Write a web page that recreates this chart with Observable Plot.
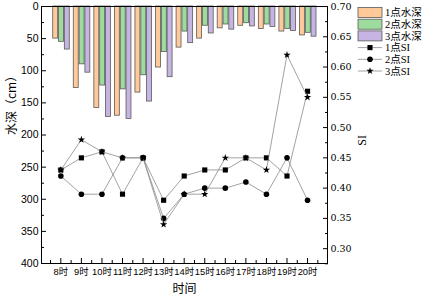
<!DOCTYPE html>
<html><head><meta charset="utf-8">
<script src="https://cdn.jsdelivr.net/npm/d3@7"></script>
<script src="https://cdn.jsdelivr.net/npm/@observablehq/plot@0.6"></script>
<style>
body{margin:0;background:#fff;}
#wrap{position:relative;width:425px;height:301px;}
#legend{position:absolute;left:0;top:0;}
</style></head><body><div id="wrap"></div>
<script>
// ---- data ----
const hours = ["8时","9时","10时","11时","12时","13时","14时","15时","16时","17时","18时","19时","20时"];
const depth1 = [50,127,158,170,134,95,64,50,34,30,35,39,45];
const depth2 = [55,90,123,129,107,71,39,30,28,26,28,35,41];
const depth3 = [67,103,172,175,148,110,57,42,36,31,32,38,47];
const si1 = [0.43,0.45,0.46,0.39,0.45,0.38,0.42,0.43,0.43,0.45,0.45,0.42,0.56];
const si2 = [0.42,0.39,0.39,0.45,0.45,0.35,0.39,0.40,0.40,0.41,0.39,0.45,0.38];
const si3 = [0.43,0.48,0.46,0.45,0.45,0.34,0.39,0.39,0.45,0.45,0.43,0.62,0.55];
const depthTicks = [0,50,100,150,200,250,300,350,400];
const siTicks = [0.30,0.35,0.40,0.45,0.50,0.55,0.60,0.65,0.70];
const depthNames = ["1点水深","2点水深","3点水深"];
const siNames = ["1点SI","2点SI","3点SI"];
const xTitle = "时间", yTitle = "水深（cm）", y2Title = "SI";

// ---- styles ----
const barColors = ["#FFC99A","#9EDC9E","#C6B5E2"];
const barStroke = "#5a5a5a";
const symbols = ["square","circle","star"];
const symbolR = [2.9,2.8,2.3];
const lineColor = "#8a8a8a";
const SI_TOP = 0.70, SI_BOTTOM = 0.2755, DEPTH_MAX = 400;
const siToDepth = s => (SI_TOP - s) / (SI_TOP - SI_BOTTOM) * DEPTH_MAX;
const depthToSi = d => SI_TOP - d / DEPTH_MAX * (SI_TOP - SI_BOTTOM);

const hourNum = hours.map(h => parseInt(h));
const BAR_W = 0.24, barOffsets = [-0.25, 0.035, 0.315];

const barRows = [];
[depth1, depth2, depth3].forEach((arr, k) => arr.forEach((v, i) =>
  barRows.push({x1: hourNum[i] + barOffsets[k] - BAR_W/2, x2: hourNum[i] + barOffsets[k] + BAR_W/2, v, k})));
const siSeries = [si1, si2, si3].map(arr => arr.map((s, i) => ({h: hourNum[i], d: siToDepth(s)})));

const minorX = d3.range(7.5, 21, 1);
const minorDepth = d3.range(25, 400, 50);
const minorSi = [0.275,0.325,0.375,0.425,0.475,0.525,0.575,0.625,0.675].map(siToDepth);

const sans = "'Liberation Sans','Noto Sans CJK SC',sans-serif";
const serif = "'DejaVu Serif','Noto Sans CJK SC',serif";
const cjk = "'Noto Sans CJK SC',sans-serif";

const marks = [
  Plot.rect(barRows, {x1: "x1", x2: "x2", y1: 0, y2: "v", fill: d => barColors[d.k], stroke: barStroke, strokeWidth: 0.8})
];
siSeries.forEach((s, k) => {
  marks.push(Plot.line(s, {x: "h", y: "d", stroke: lineColor, strokeWidth: 0.8}));
  marks.push(Plot.dot(s, {x: "h", y: "d", symbol: symbols[k], r: symbolR[k], fill: "#000", stroke: "none"}));
});
marks.push(
  Plot.frame({stroke: "#000", strokeWidth: 1}),
  Plot.axisY(depthTicks, {anchor: "left", tickSize: -5, tickPadding: 8, fontFamily: sans, fontSize: 10.5, fill: "#000", label: null}),
  Plot.axisY(minorDepth, {anchor: "left", tickSize: -3, tickFormat: () => "", label: null}),
  Plot.axisY(siTicks.map(siToDepth), {anchor: "right", tickSize: -5, tickPadding: 8, fontFamily: serif, fontSize: 9.5, fill: "#000",
    tickFormat: d => depthToSi(d).toFixed(2), label: null}),
  Plot.axisY(minorSi, {anchor: "right", tickSize: -3, tickFormat: () => "", label: null}),
  Plot.axisX(hourNum, {anchor: "bottom", tickSize: -5, tickPadding: 10, fontFamily: sans, fontSize: 9.4, fill: "#000",
    tickFormat: d => hours[hourNum.indexOf(d)], label: null}),
  Plot.axisX(minorX, {anchor: "bottom", tickSize: -3, tickFormat: () => "", label: null}),
  Plot.text([xTitle], {frameAnchor: "bottom", dy: 29, fontSize: 12, fontFamily: cjk, fill: "#000"}),
  Plot.text([yTitle], {frameAnchor: "left", rotate: -90, dx: -29, fontSize: 12, fontFamily: cjk, fill: "#000"}),
  Plot.text([y2Title], {frameAnchor: "right", rotate: -90, dx: 35, fontSize: 12, fontFamily: "'Liberation Serif',serif", fill: "#000"})
);

const chart = Plot.plot({
  width: 425, height: 301,
  marginTop: 6, marginBottom: 38, marginLeft: 41, marginRight: 98,
  x: {type: "linear", domain: [7.06, 20.97], axis: null},
  y: {domain: [0, DEPTH_MAX], reverse: true, axis: null},
  style: {fontFamily: sans, fontSize: "10px", color: "#000", background: "#fff"},
  marks
});
document.getElementById("wrap").appendChild(chart);

// ---- legend ----
const NS = "http://www.w3.org/2000/svg";
const leg = document.createElementNS(NS, "svg");
leg.setAttribute("id", "legend");
leg.setAttribute("width", 425); leg.setAttribute("height", 301);
const rowY = [12.5, 24.2, 35.9, 47.6, 59.3, 71];
const lx = 358, lw = 24, tx = 385;
depthNames.forEach((name, k) => {
  const r = document.createElementNS(NS, "rect");
  r.setAttribute("x", lx); r.setAttribute("y", rowY[k] - 5); r.setAttribute("width", lw); r.setAttribute("height", 10);
  r.setAttribute("fill", barColors[k]); r.setAttribute("stroke", barStroke); r.setAttribute("stroke-width", 0.8);
  leg.appendChild(r);
});
siNames.forEach((name, k) => {
  const y = rowY[k + 3];
  const l = document.createElementNS(NS, "line");
  l.setAttribute("x1", lx); l.setAttribute("x2", lx + lw); l.setAttribute("y1", y); l.setAttribute("y2", y);
  l.setAttribute("stroke", lineColor); l.setAttribute("stroke-width", 0.8);
  leg.appendChild(l);
  const p = document.createElementNS(NS, "path");
  const size = Math.PI * symbolR[k] * symbolR[k];
  const sym = [d3.symbolSquare, d3.symbolCircle, d3.symbolStar][k];
  p.setAttribute("d", d3.symbol(sym, size)());
  p.setAttribute("transform", `translate(${lx + lw/2},${y})`);
  p.setAttribute("fill", "#000");
  leg.appendChild(p);
});
[...depthNames, ...siNames].forEach((name, i) => {
  const t = document.createElementNS(NS, "text");
  t.setAttribute("x", tx); t.setAttribute("y", rowY[i]); t.setAttribute("dy", "0.35em");
  t.setAttribute("font-family", "'Liberation Serif','Noto Sans CJK SC',serif");
  t.setAttribute("font-size", 10.5);
  t.textContent = name;
  leg.appendChild(t);
});
document.getElementById("wrap").appendChild(leg);
</script></body></html>
